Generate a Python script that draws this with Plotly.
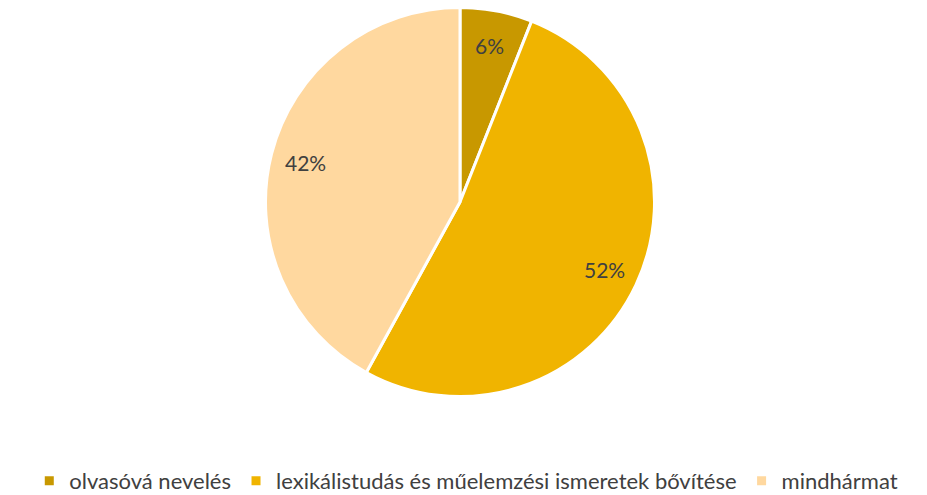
import math
import plotly.graph_objects as go

labels = ["olvasóvá nevelés", "lexikálistudás és műelemzési ismeretek bővítése", "mindhármat"]
values = [6, 52, 42]
colors = ["#C89800", "#F0B400", "#FFD89F"]

W, H = 927, 495
cx, cy, R = 460, 202, 193  # pie centre / radius in px
pad = 1.5

fig = go.Figure(go.Pie(
    labels=labels, values=values, sort=False, direction="clockwise", rotation=0,
    marker=dict(colors=colors, line=dict(color="white", width=3)),
    textinfo="none", hoverinfo="label+percent",
    domain=dict(x=[(cx - R - pad) / W, (cx + R + pad) / W],
                y=[1 - (cy + R + pad) / H, 1 - (cy - R - pad) / H]),
))

# data labels placed like Excel's "best fit" inside labels
total = sum(values)
cum = 0
for v in values:
    mid = (cum + v / 2) / total * 2 * math.pi
    cum += v
    r = 0.825 * R
    px = cx + r * math.sin(mid)
    py = cy - r * math.cos(mid)
    fig.add_annotation(x=px / W, y=1 - py / H, xref="paper", yref="paper",
                       xanchor="center", yanchor="middle",
                       text=f"{round(v / total * 100)}%", showarrow=False,
                       font=dict(family="Lato, sans-serif", size=21, color="#404040"))

fig.update_layout(
    width=W, height=H, margin=dict(l=0, r=0, t=0, b=0, autoexpand=False),
    paper_bgcolor="white", plot_bgcolor="white",
    showlegend=True,
    legend=dict(orientation="h", x=0.503, xanchor="center", y=1 - 481 / H, yanchor="middle",
                font=dict(family="Lato, sans-serif", size=22, color="#404040"),
                itemwidth=30),
)
fig.write_html("out.html", config={"displayModeBar": False},
               post_script="document.body.style.margin='0';")
